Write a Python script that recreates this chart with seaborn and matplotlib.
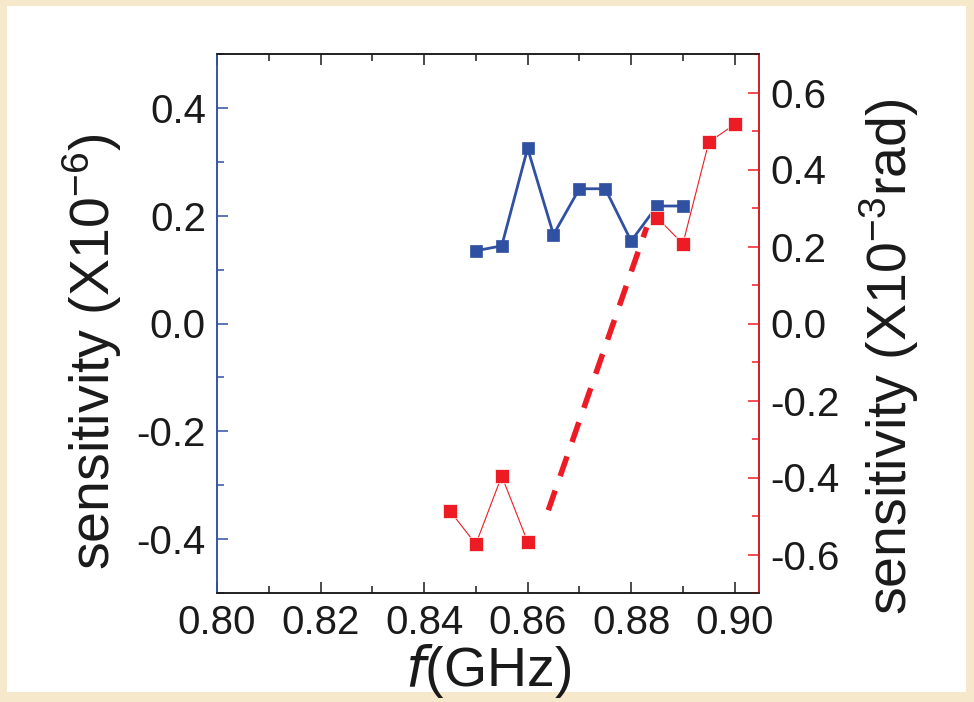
import matplotlib
matplotlib.use("Agg")
import matplotlib.pyplot as plt
from matplotlib.patches import Rectangle
from matplotlib.ticker import MultipleLocator
import seaborn as sns

# blue series (left axis, x1e-6)
f_blue = [0.850, 0.855, 0.860, 0.865, 0.870, 0.875, 0.880, 0.885, 0.890]
s_blue = [0.135, 0.144, 0.325, 0.165, 0.250, 0.250, 0.153, 0.218, 0.218]

# red series (right axis, x1e-3 rad), drawn as two pieces
f_red_lo = [0.845, 0.850, 0.855, 0.860]
s_red_lo = [-0.487, -0.573, -0.396, -0.567]
f_red_hi = [0.885, 0.890, 0.895, 0.900]
s_red_hi = [0.275, 0.207, 0.471, 0.517]

# dashed guide between the two red pieces
f_dash = [0.864, 0.883]
s_dash = [-0.485, 0.25]

xticks = [0.80, 0.82, 0.84, 0.86, 0.88, 0.90]

BLUE = "#3050a2"
RED = "#ed1c24"
BEIGE = "#f6e9cb"
INK = "#1a1a1a"

sns.set_style("ticks")
plt.rcParams["font.family"] = ["Liberation Sans", "DejaVu Sans"]
plt.rcParams["mathtext.default"] = "regular"
plt.rcParams["lines.scale_dashes"] = False
plt.rcParams["axes.unicode_minus"] = False
plt.rcParams["text.color"] = INK
plt.rcParams["axes.labelcolor"] = INK
plt.rcParams["xtick.labelcolor"] = INK
plt.rcParams["ytick.labelcolor"] = INK

fig = plt.figure(figsize=(9.74, 7.02), dpi=100, facecolor=BEIGE)
fig.patches.append(Rectangle((7 / 974, 1 - 692 / 702), 959 / 974, 686 / 702,
                             transform=fig.transFigure, facecolor="white",
                             edgecolor="none", zorder=-10))

ax = fig.add_axes([217 / 974, 1 - 593 / 702, 542 / 974, 539 / 702])
ax.set_facecolor("white")
ax2 = ax.twinx()

sns.lineplot(x=f_blue, y=s_blue, ax=ax, color=BLUE, lw=2.0, marker="s",
             markersize=9, markeredgecolor=BLUE, markeredgewidth=0.5)

sns.lineplot(x=f_red_lo, y=s_red_lo, ax=ax2, color=RED, lw=0.8, marker="s",
             markersize=9.5, markeredgecolor="white", markeredgewidth=0.5)
sns.lineplot(x=f_red_hi, y=s_red_hi, ax=ax2, color=RED, lw=0.8, marker="s",
             markersize=9.5, markeredgecolor="white", markeredgewidth=0.5)
sns.lineplot(x=f_dash, y=s_dash, ax=ax2, color=RED, lw=4.0)
ax2.lines[-1].set_dashes([15, 11])
ax2.lines[-1].set_solid_capstyle("butt")

ax.set_xlim(0.80, 0.9047)
ax.set_ylim(-0.5, 0.5)
ax2.set_ylim(-0.7, 0.7)

ax.set_xticks(xticks)
ax.set_xticklabels([f"{t:.2f}" for t in xticks])
ax.xaxis.set_minor_locator(MultipleLocator(0.01))
ax.set_yticks([-0.4, -0.2, 0.0, 0.2, 0.4])
ax.yaxis.set_minor_locator(MultipleLocator(0.1))
ax2.set_yticks([-0.6, -0.4, -0.2, 0.0, 0.2, 0.4, 0.6])
ax2.yaxis.set_minor_locator(MultipleLocator(0.1))

ax.tick_params(axis="x", which="both", direction="in", top=True, bottom=True,
               color=INK, labelsize=29, pad=8)
ax.tick_params(axis="x", which="major", length=8, width=1.1)
ax.tick_params(axis="x", which="minor", length=5, width=1.1)
ax.tick_params(axis="y", which="both", direction="in", right=False,
               color=BLUE, labelsize=29, pad=8)
ax.tick_params(axis="y", which="major", length=8, width=1.1)
ax.tick_params(axis="y", which="minor", length=5, width=1.1)
ax2.tick_params(axis="y", which="both", direction="in", color=RED,
                labelsize=29, pad=8)
ax2.tick_params(axis="y", which="major", length=8, width=1.1)
ax2.tick_params(axis="y", which="minor", length=5, width=1.1)

for a in (ax, ax2):
    for sp in a.spines.values():
        sp.set_linewidth(1.1)
        sp.set_color(INK)
ax.spines["left"].set_color(BLUE)
ax2.spines["left"].set_color(BLUE)
ax2.spines["right"].set_color(RED)

ax.set_xlabel("$\\it{f}$(GHz)", fontsize=40, labelpad=0)
ax.set_ylabel("sensitivity (X10$^{-6}$)", fontsize=40)
ax2.set_ylabel("sensitivity (X10$^{-3}$rad)", fontsize=40)
ax.yaxis.set_label_coords(-0.172, 0.447)
ax2.yaxis.set_label_coords(1.181, 0.438)

fig.savefig("out.png", dpi=100, facecolor=BEIGE)
